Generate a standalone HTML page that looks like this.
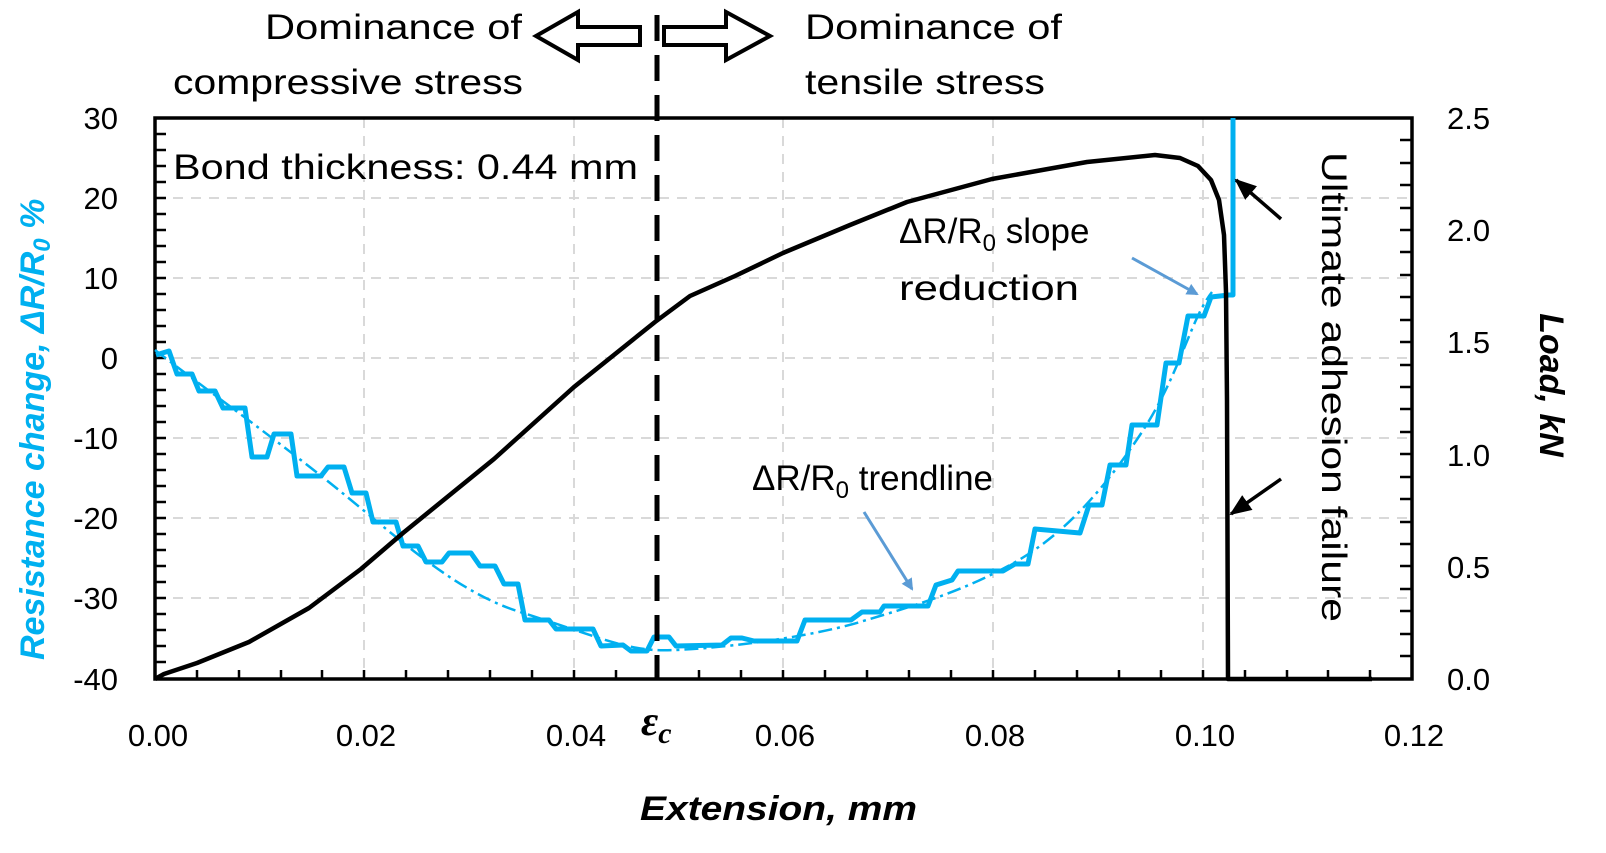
<!DOCTYPE html>
<html><head><meta charset="utf-8"><style>
html,body{margin:0;padding:0;background:#fff;}
svg{display:block;font-family:"Liberation Sans","DejaVu Sans",sans-serif;}
</style></head><body>
<svg width="1606" height="853" viewBox="0 0 1606 853" xmlns="http://www.w3.org/2000/svg">
<defs>
<marker id="ab" markerWidth="12" markerHeight="12" refX="10" refY="6" orient="auto" markerUnits="userSpaceOnUse" viewBox="0 0 12 12"><path d="M0,0 L12,6 L0,12 z" fill="#5B9BD5"/></marker>
<marker id="ak" markerWidth="22" markerHeight="22" refX="20" refY="11" orient="auto" markerUnits="userSpaceOnUse"><path d="M0,2 L22,11 L0,20 z" fill="#000"/></marker>
</defs>
<g stroke="#d9d9d9" stroke-width="2" stroke-dasharray="10,8">
<line x1="364" y1="118" x2="364" y2="679"/><line x1="574" y1="118" x2="574" y2="679"/><line x1="783" y1="118" x2="783" y2="679"/><line x1="993" y1="118" x2="993" y2="679"/><line x1="1203" y1="118" x2="1203" y2="679"/>
<line x1="155" y1="198" x2="1412" y2="198"/><line x1="155" y1="278" x2="1412" y2="278"/><line x1="155" y1="358" x2="1412" y2="358"/><line x1="155" y1="438" x2="1412" y2="438"/><line x1="155" y1="518" x2="1412" y2="518"/><line x1="155" y1="598" x2="1412" y2="598"/>
</g>
<rect x="155" y="118" width="1257" height="561" fill="none" stroke="#000" stroke-width="3.5"/>
<g stroke="#000" stroke-width="2.5">
<path d="M155,134h11M155,150h11M155,166h11M155,182h11M155,198h11M155,214h11M155,230h11M155,246h11M155,262h11M155,278h11M155,294h11M155,310h11M155,326h11M155,342h11M155,358h11M155,374h11M155,390h11M155,406h11M155,422h11M155,438h11M155,454h11M155,470h11M155,486h11M155,502h11M155,518h11M155,534h11M155,550h11M155,566h11M155,582h11M155,598h11M155,614h11M155,630h11M155,646h11M155,662h11"/>
<path d="M1412,140h-12M1412,163h-12M1412,185h-12M1412,208h-12M1412,230h-12M1412,252h-12M1412,275h-12M1412,297h-12M1412,320h-12M1412,342h-12M1412,365h-12M1412,387h-12M1412,409h-12M1412,432h-12M1412,454h-12M1412,477h-12M1412,499h-12M1412,522h-12M1412,544h-12M1412,566h-12M1412,589h-12M1412,611h-12M1412,634h-12M1412,656h-12"/>
<path d="M197,679v-9M239,679v-9M281,679v-9M322,679v-9M364,679v-9M406,679v-9M448,679v-9M490,679v-9M532,679v-9M574,679v-9M616,679v-9M658,679v-9M699,679v-9M741,679v-9M783,679v-9M825,679v-9M867,679v-9M909,679v-9M951,679v-9M993,679v-9M1035,679v-9M1077,679v-9M1119,679v-9M1161,679v-9M1203,679v-9M1245,679v-9M1287,679v-9M1328,679v-9M1370,679v-9"/>
</g>
<path d="M155,350 C200,385 250,420 320,475 S450,590 520,612 S620,648 655,650 S800,640 860,622 S960,592 1010,565 S1100,495 1140,435 S1190,320 1212,292" fill="none" stroke="#00B0F0" stroke-width="2.5" stroke-dasharray="14,5,3,5"/>
<polyline fill="none" stroke="#00B0F0" stroke-width="5" stroke-linejoin="round" points="156,355 169,351 177,374 192,374 199,391 215,391 223,408 245,408 252,457 267,457 274,434 291,434 297,476 321,476 328,467 344,467 352,493 366,493 373,522 396,522 403,546 418,546 426,562 442,562 449,553 471,553 480,566 495,566 504,584 518,584 525,620 549,620 556,629 593,629 601,646 623,645 631,651 647,651 654,637 669,637 676,646 722,645 731,638 742,638 754,641 797,641 805,620 851,620 862,612 880,612 884,606 928,606 936,585 952,580 958,571 1003,571 1015,564 1028,564 1035,529 1080,533 1089,505 1102,505 1110,465 1126,465 1132,425 1157,425 1166,363 1179,363 1188,316 1204,316 1211,297 1229,295 1233,295 1233,118"/>
<path d="M155,679 L164,674 L197,663 L249,642 L309,608 L361,569 L403,533 L494,459 L574,387 L655,322 L690,296 L735,276 L783,253 L850,225 L907,202 L992,179 L1087,162 L1155,155 L1180,158 L1198,166 L1211,180 L1219,200 L1224,235 L1226,292 L1227,400 L1228,679 L1372,679" fill="none" stroke="#000" stroke-width="4.5" stroke-linejoin="round"/>
<line x1="657" y1="15" x2="657" y2="679" stroke="#000" stroke-width="5" stroke-dasharray="26,14"/>
<path d="M640,27 L578,27 L578,12 L536,36 L578,60 L578,45 L640,45 Z" fill="#fff" stroke="#000" stroke-width="4"/>
<path d="M664,27 L726,27 L726,12 L770,36 L726,60 L726,45 L664,45 Z" fill="#fff" stroke="#000" stroke-width="4"/>
<g font-size="35" fill="#000">
<text x="265" y="39" textLength="257" lengthAdjust="spacingAndGlyphs">Dominance of</text>
<text x="173" y="94" textLength="350" lengthAdjust="spacingAndGlyphs">compressive stress</text>
<text x="805" y="39" textLength="257" lengthAdjust="spacingAndGlyphs">Dominance of</text>
<text x="805" y="94" textLength="240" lengthAdjust="spacingAndGlyphs">tensile stress</text>
<text x="173" y="179" textLength="465" lengthAdjust="spacingAndGlyphs">Bond thickness: 0.44 mm</text>
<text x="899" y="243">ΔR/R<tspan font-size="24" dy="8">0</tspan><tspan dy="-8"> slope</tspan></text>
<text x="899" y="300" textLength="180" lengthAdjust="spacingAndGlyphs">reduction</text>
<text x="752" y="490">ΔR/R<tspan font-size="24" dy="8">0</tspan><tspan dy="-8"> trendline</tspan></text>
<text transform="translate(1322,152) rotate(90)" textLength="470" lengthAdjust="spacingAndGlyphs">Ultimate adhesion failure</text>
</g>
<line x1="1132" y1="258" x2="1197" y2="294" stroke="#5B9BD5" stroke-width="3" marker-end="url(#ab)"/>
<line x1="864" y1="512" x2="912" y2="589" stroke="#5B9BD5" stroke-width="3" marker-end="url(#ab)"/>
<line x1="1281" y1="219" x2="1236" y2="180" stroke="#000" stroke-width="3.5" marker-end="url(#ak)"/>
<line x1="1281" y1="479" x2="1231" y2="514" stroke="#000" stroke-width="3.5" marker-end="url(#ak)"/>
<g font-size="31" fill="#000" text-anchor="end">
<text x="118" y="129">30</text><text x="118" y="209">20</text><text x="118" y="289">10</text><text x="118" y="369">0</text><text x="118" y="449">-10</text><text x="118" y="529">-20</text><text x="118" y="609">-30</text><text x="118" y="690">-40</text>
</g>
<g font-size="31" fill="#000">
<text x="1447" y="129">2.5</text><text x="1447" y="241">2.0</text><text x="1447" y="353">1.5</text><text x="1447" y="466">1.0</text><text x="1447" y="578">0.5</text><text x="1447" y="690">0.0</text>
</g>
<g font-size="31" fill="#000" text-anchor="middle">
<text x="158" y="746">0.00</text><text x="366" y="746">0.02</text><text x="576" y="746">0.04</text><text x="785" y="746">0.06</text><text x="995" y="746">0.08</text><text x="1205" y="746">0.10</text><text x="1414" y="746">0.12</text>
</g>
<text x="641" y="735" font-size="42" font-weight="bold" font-style="italic" font-family="Liberation Serif, serif">ε<tspan font-size="30" dy="8">c</tspan></text>
<text x="640" y="820" font-size="34" font-weight="bold" font-style="italic" textLength="277" lengthAdjust="spacingAndGlyphs">Extension, mm</text>
<text transform="translate(44,660) rotate(-90)" font-size="34" font-weight="bold" font-style="italic" fill="#00B0F0">Resistance change, ΔR/R<tspan font-size="24" dy="6">0</tspan><tspan dy="-6"> %</tspan></text>
<text transform="translate(1540,385) rotate(90)" font-size="34" font-weight="bold" font-style="italic" text-anchor="middle">Load, kN</text>
</svg>
</body></html>
